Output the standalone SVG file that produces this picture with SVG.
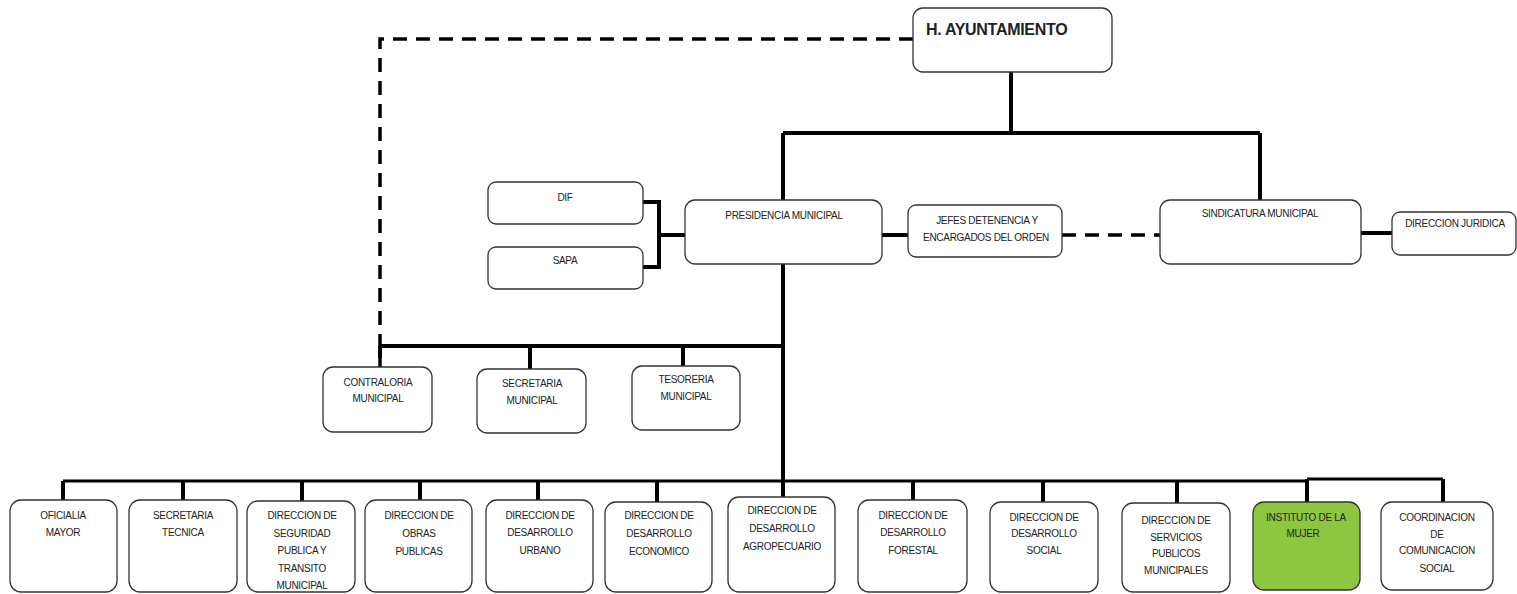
<svg xmlns="http://www.w3.org/2000/svg" width="1517" height="594" viewBox="0 0 1517 594">
<style>
.box{fill:#fff;stroke:#333;stroke-width:1.3}
.green{fill:#8dc63f;stroke:#333;stroke-width:1.3}
.t{font-family:"Liberation Sans",Arial,sans-serif;font-size:10px;fill:#222;text-anchor:middle;letter-spacing:-0.3px}
.title{font-family:"Liberation Sans",Arial,sans-serif;font-size:16px;font-weight:bold;fill:#222;letter-spacing:-0.3px}
.solid{fill:none;stroke:#000;stroke-width:4}
.thin{fill:none;stroke:#000;stroke-width:3}
.dash{fill:none;stroke:#000;stroke-width:3.5;stroke-dasharray:14 9}
</style>
<rect width="1517" height="594" fill="#fff"/>
<g id="connectors">
<path class="dash" d="M913 39 H380 V346"/>
<path class="dash" d="M380 358 V368"/>
<path class="solid" d="M1011 72 V133 M783 133 H1260 M783 133 V200 M1260 133 V200"/>
<path class="solid" d="M643 202 H659 V267 H643 M659 235 H685"/>
<path class="solid" d="M882 235 H908"/>
<path class="dash" d="M1062 235 H1160"/>
<path class="solid" d="M1361 233 H1392"/>
<path class="solid" d="M783 264 V481"/>
<path class="solid" d="M380 346 H783 M380 346 V358 M530 346 V369 M683 346 V366"/>
<path class="thin" d="M63 481 H1307 M1307 479 H1443"/>
<path class="solid" d="M63 481 V500 M183 481 V500 M302 481 V501 M420 481 V500 M538 481 V500 M657 481 V502 M783 481 V497 M913 481 V500 M1043 481 V502 M1177 481 V503 M1307 479 V502 M1443 479 V502"/>
</g>
<g id="n-ayuntamiento"><rect class="box" x="913" y="8" width="199" height="64" rx="10"/><text class="title" x="926" y="35">H. AYUNTAMIENTO</text></g>
<g id="n-dif"><rect class="box" x="488" y="182" width="155" height="42" rx="8"/><text class="t" x="565" y="200.5">DIF</text></g>
<g id="n-sapa"><rect class="box" x="488" y="247" width="155" height="42" rx="8"/><text class="t" x="565" y="263.5">SAPA</text></g>
<g id="n-presidencia"><rect class="box" x="685" y="200" width="197" height="64" rx="10"/><text class="t" x="784" y="218.5">PRESIDENCIA MUNICIPAL</text></g>
<g id="n-jefes"><rect class="box" x="908" y="205" width="154" height="52" rx="8"/><text class="t" x="987" y="223.5">JEFES DETENENCIA Y</text><text class="t" x="986" y="240.5">ENCARGADOS DEL ORDEN</text></g>
<g id="n-sindicatura"><rect class="box" x="1160" y="200" width="201" height="64" rx="10"/><text class="t" x="1260" y="216.5">SINDICATURA MUNICIPAL</text></g>
<g id="n-juridica"><rect class="box" x="1392" y="212" width="124" height="43" rx="8"/><text class="t" x="1455" y="226.5">DIRECCION JURIDICA</text></g>
<g id="n-contraloria"><rect class="box" x="323" y="367" width="109" height="65" rx="10"/><text class="t" x="378" y="385.5">CONTRALORIA</text><text class="t" x="378" y="401.5">MUNICIPAL</text></g>
<g id="n-secretaria-mun"><rect class="box" x="477" y="369" width="109" height="64" rx="10"/><text class="t" x="532" y="387">SECRETARIA</text><text class="t" x="532" y="404">MUNICIPAL</text></g>
<g id="n-tesoreria"><rect class="box" x="632" y="366" width="108" height="64" rx="10"/><text class="t" x="686" y="383">TESORERIA</text><text class="t" x="686" y="400">MUNICIPAL</text></g>
<g id="n-oficialia"><rect class="box" x="10" y="500" width="107" height="92" rx="11"/><text class="t" x="63" y="518.5">OFICIALIA</text><text class="t" x="63" y="535.5">MAYOR</text></g>
<g id="n-sec-tecnica"><rect class="box" x="129" y="500" width="108" height="92" rx="11"/><text class="t" x="183" y="518.5">SECRETARIA</text><text class="t" x="183" y="535.5">TECNICA</text></g>
<g id="n-seguridad"><rect class="box" x="247" y="501" width="108" height="91" rx="11"/><text class="t" x="302" y="518.5">DIRECCION DE</text><text class="t" x="302" y="536.5">SEGURIDAD</text><text class="t" x="302" y="554">PUBLICA Y</text><text class="t" x="302" y="571.5">TRANSITO</text><text class="t" x="302" y="589">MUNICIPAL</text></g>
<g id="n-obras"><rect class="box" x="365" y="500" width="107" height="92" rx="11"/><text class="t" x="419" y="518.5">DIRECCION DE</text><text class="t" x="419" y="537">OBRAS</text><text class="t" x="419" y="555">PUBLICAS</text></g>
<g id="n-urbano"><rect class="box" x="486" y="500" width="107" height="92" rx="11"/><text class="t" x="540" y="518.5">DIRECCION DE</text><text class="t" x="540" y="536">DESARROLLO</text><text class="t" x="540" y="553.5">URBANO</text></g>
<g id="n-economico"><rect class="box" x="605" y="502" width="107" height="90" rx="11"/><text class="t" x="659" y="518.5">DIRECCION DE</text><text class="t" x="659" y="536.5">DESARROLLO</text><text class="t" x="659" y="555">ECONOMICO</text></g>
<g id="n-agropecuario"><rect class="box" x="728" y="497" width="107" height="95" rx="11"/><text class="t" x="782" y="513.5">DIRECCION DE</text><text class="t" x="782" y="531.5">DESARROLLO</text><text class="t" x="782" y="549.5">AGROPECUARIO</text></g>
<g id="n-forestal"><rect class="box" x="858" y="500" width="109" height="92" rx="11"/><text class="t" x="913" y="518.5">DIRECCION DE</text><text class="t" x="913" y="535.5">DESARROLLO</text><text class="t" x="913" y="553.5">FORESTAL</text></g>
<g id="n-social"><rect class="box" x="990" y="502" width="108" height="90" rx="11"/><text class="t" x="1044" y="520.5">DIRECCION DE</text><text class="t" x="1044" y="537">DESARROLLO</text><text class="t" x="1044" y="554">SOCIAL</text></g>
<g id="n-servicios"><rect class="box" x="1122" y="503" width="108" height="89" rx="11"/><text class="t" x="1176" y="523.5">DIRECCION DE</text><text class="t" x="1176" y="540.5">SERVICIOS</text><text class="t" x="1176" y="557">PUBLICOS</text><text class="t" x="1176" y="574">MUNICIPALES</text></g>
<g id="n-instituto"><rect class="green" x="1253" y="502" width="107" height="88" rx="11"/><text class="t" x="1306" y="520.5">INSTITUTO DE LA</text><text class="t" x="1303" y="537">MUJER</text></g>
<g id="n-coordinacion"><rect class="box" x="1381" y="502" width="112" height="88" rx="11"/><text class="t" x="1437" y="521">COORDINACION</text><text class="t" x="1437" y="537.5">DE</text><text class="t" x="1437" y="554">COMUNICACION</text><text class="t" x="1437" y="571.5">SOCIAL</text></g>
</svg>
